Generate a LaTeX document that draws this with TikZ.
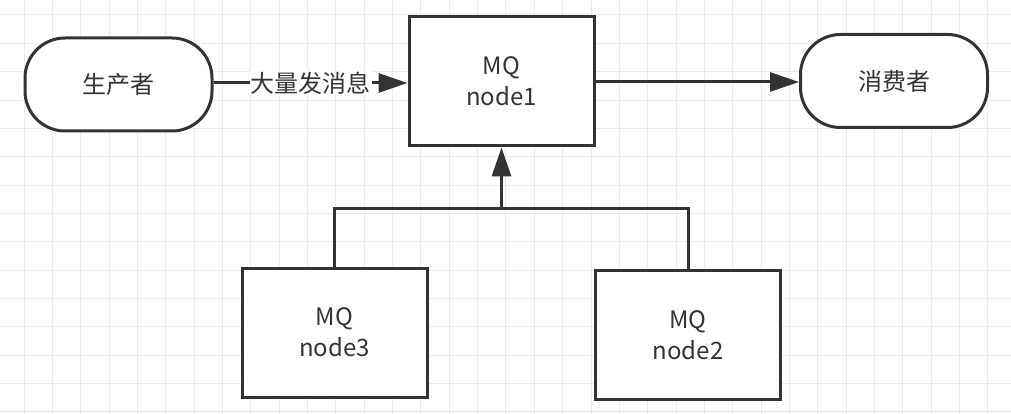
\documentclass[tikz,border=0pt]{standalone}
\usepackage{fontspec}
\setmainfont{Noto Sans CJK SC}
\usetikzlibrary{
  arrows.meta,
  positioning
}
\definecolor{inkgray}{HTML}{333333}
\definecolor{gridgray}{HTML}{EBEBEB}

\begin{document}
\begin{tikzpicture}[
  x=1pt, y=-1pt,
  font=\fontsize{24}{31}\selectfont,
  text=inkgray,
  gridline/.style={draw=gridgray, line width=1pt},
  mqbox/.style={
    rectangle, draw=inkgray, line width=3pt, fill=white,
    minimum width=185pt, minimum height=129pt, align=center, inner sep=0pt
  },
  terminal/.style={
    rectangle, rounded corners=40pt, draw=inkgray, line width=3pt, fill=white,
    minimum width=187pt, minimum height=93pt, align=center, inner sep=0pt
  },
  link/.style={draw=inkgray, line width=3pt},
  flow/.style={link, -{Triangle[length=29pt, width=19pt]}},
]

\useasboundingbox (0,0) rectangle (1011,414);
\fill[white] (0,0) rectangle (1011,414);

% Background grid
\begin{scope}
  \clip (0,0) rectangle (1011,414);
  \foreach \gx in {0,...,34}
    \draw[gridline] (24+28.35*\gx, 0) -- (24+28.35*\gx, 414);
  \foreach \gy in {0,...,14}
    \draw[gridline] (0, 15+28.35*\gy) -- (1011, 15+28.35*\gy);
\end{scope}

% Producer, broker nodes, consumer
\node[terminal] (producer) at (118.5, 84.5) {生产者};
\node[mqbox] (node1) at (501.5, 81.5) {MQ\\node1};
\node[terminal] (consumer) at (894, 81) {消费者};
\node[mqbox] (node3) at (334.5, 332.5) {MQ\\node3};
\node[mqbox] (node2) at (688, 335) {MQ\\node2};

% Messages in and out
\draw[flow] (producer.east |- 0,83) -- (node1.west |- 0,83)
  node[midway, fill=white, inner sep=1pt] {大量发消息};
\draw[flow] (node1.east |- 0,82) -- (consumer.west |- 0,82);

% Replicas joined to node1
\coordinate (join) at (node1.south |- 0,208);
\draw[link] (node3.north) |- (node2.north |- join) -- (node2.north);
\draw[flow] (join) -- (node1.south);

\end{tikzpicture}
\end{document}
